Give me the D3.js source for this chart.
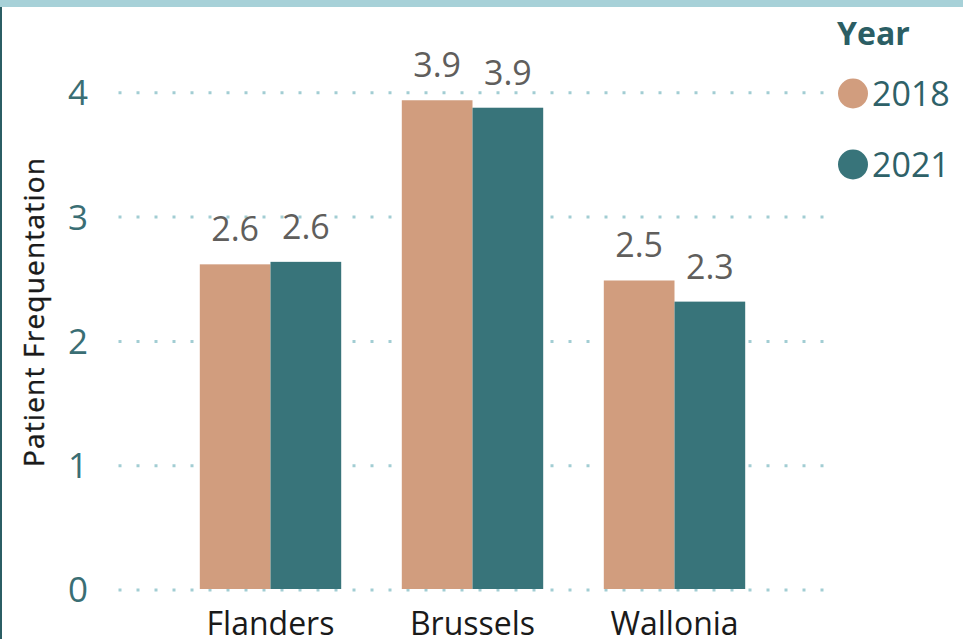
<!DOCTYPE html>
<html>
<head>
<meta charset="utf-8">
<script src="https://cdn.jsdelivr.net/npm/d3@7/dist/d3.min.js"></script>
<style>
  html, body { margin: 0; padding: 0; background: #fff; }
  svg { display: block; font-family: "Open Sans", "Noto Sans", sans-serif; }
</style>
</head>
<body>
<svg id="chart" width="963" height="639"></svg>
<script>
const categories = ["Flanders", "Brussels", "Wallonia"];
const years = ["2018", "2021"];
const values2018 = [2.62, 3.94, 2.49];
const values2021 = [2.64, 3.88, 2.32];
const yTicks = [0, 1, 2, 3, 4];
const colors = ["#D19D7E", "#38747A"];

const svg = d3.select("#chart");
const W = 963, H = 639;

// frame
svg.append("rect").attr("x", 0).attr("y", 0).attr("width", W).attr("height", 7).attr("fill", "#A7D1D8");
svg.append("rect").attr("x", 0).attr("y", 7).attr("width", 2).attr("height", H - 7).attr("fill", "#2B5E64");

const y = d3.scaleLinear().domain([0, 4]).range([590, 92.8]);
const x = d3.scaleBand().domain(categories).range([169.5, 775.5]).paddingInner(0.3).paddingOuter(0.15);
const xs = d3.scaleBand().domain(years).range([0, x.bandwidth()]);

// gridlines
const grid = svg.append("g");
grid.selectAll("line").data(yTicks).join("line")
  .attr("x1", 118.5).attr("x2", 826)
  .attr("y1", d => y(d)).attr("y2", d => y(d))
  .attr("stroke", "#A2CDD3").attr("stroke-width", 3)
  .attr("stroke-dasharray", "3,15");

// y axis labels
const yAxis = d3.axisLeft(y).tickValues(yTicks).tickFormat(d3.format("d")).tickSize(0).tickPadding(0);
const ya = svg.append("g").attr("transform", "translate(88,0)").call(yAxis);
ya.select(".domain").remove();
ya.selectAll("text").attr("font-size", 35).attr("fill", "#3A6E74")
  .attr("font-family", "'Open Sans', sans-serif").attr("dy", "0.34em");

// bars
const rows = categories.map((c, i) => ({ cat: c, vals: [values2018[i], values2021[i]] }));
const groups = svg.selectAll("g.grp").data(rows).join("g").attr("class", "grp")
  .attr("transform", d => `translate(${x(d.cat)},0)`);
groups.selectAll("rect").data(d => d.vals.map((v, j) => ({ v, yr: years[j], j }))).join("rect")
  .attr("x", d => xs(d.yr)).attr("width", xs.bandwidth())
  .attr("y", d => y(d.v)).attr("height", d => 589 - y(d.v))
  .attr("fill", d => colors[d.j]);
groups.selectAll("text").data(d => d.vals.map((v, j) => ({ v, yr: years[j], j }))).join("text")
  .attr("x", d => xs(d.yr) + xs.bandwidth() / 2)
  .attr("y", d => y(d.v) - 23)
  .attr("text-anchor", "middle").attr("font-size", 34).attr("fill", "#605E5C")
  .text(d => d3.format(".1f")(d.v));

// x axis labels
const xAxis = d3.axisBottom(x).tickSize(0).tickPadding(0);
const xa = svg.append("g").attr("transform", "translate(0,635)").call(xAxis);
xa.select(".domain").remove();
xa.selectAll("text").attr("font-size", 32).attr("fill", "#1A1A1A")
  .attr("font-family", "'Open Sans', sans-serif").attr("dy", "0");

// y axis title
svg.append("text").attr("transform", "translate(44,312) rotate(-90)")
  .attr("text-anchor", "middle").attr("font-size", 28).attr("fill", "#1A1A1A")
  .attr("stroke", "#1A1A1A").attr("stroke-width", 0.4)
  .attr("letter-spacing", 1.2)
  .text("Patient Frequentation");

// legend
svg.append("text").attr("x", 837).attr("y", 45).attr("font-size", 32).attr("font-weight", 700)
  .attr("fill", "#2B5E64").text("Year");
const leg = svg.selectAll("g.leg").data(years).join("g").attr("class", "leg")
  .attr("transform", (d, i) => `translate(853,${93.5 + i * 71})`);
leg.append("circle").attr("r", 15).attr("fill", (d, i) => colors[i]);
leg.append("text").attr("x", 19).attr("y", 12.5).attr("font-size", 34).attr("fill", "#2E6168").text(d => d);
</script>
</body>
</html>
